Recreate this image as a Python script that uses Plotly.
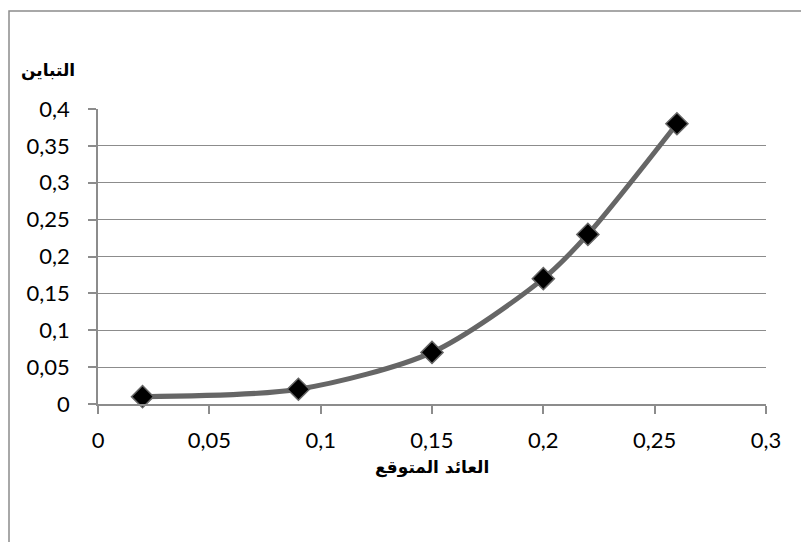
import plotly.graph_objects as go

# Expected return vs. variance
expected_return = [0.02, 0.09, 0.15, 0.20, 0.22, 0.26]
variance = [0.01, 0.02, 0.07, 0.17, 0.23, 0.38]

x_ticks = [0, 0.05, 0.1, 0.15, 0.2, 0.25, 0.3]
y_ticks = [0, 0.05, 0.1, 0.15, 0.2, 0.25, 0.3, 0.35, 0.4]

x_title = "العائد المتوقع"
y_title = "التباين"

W, H = 801, 542
L, R, T, B = 98, 35, 109, 138

fig = go.Figure()
fig.add_trace(go.Scatter(
    x=expected_return, y=variance,
    mode="lines+markers",
    line=dict(color="#666666", width=5, shape="spline", smoothing=0.8),
    marker=dict(symbol="diamond", size=17, color="#000000",
                line=dict(color="#666666", width=1.5)),
    showlegend=False,
    cliponaxis=False,
))

tick_font = dict(family="Lato, Open Sans, sans-serif", size=22, color="#000000")

fig.update_layout(
    width=W, height=H,
    margin=dict(l=L, r=R, t=T, b=B),
    paper_bgcolor="white", plot_bgcolor="white",
    separators=", ",
    xaxis=dict(
        range=[0, 0.3], tickvals=x_ticks, showgrid=False, zeroline=False,
        showline=True, linecolor="#8c8c8c", linewidth=1.5,
        ticks="outside", ticklen=8, tickcolor="#8c8c8c", tickwidth=1.5,
        tickfont=tick_font, ticklabelstandoff=8,
    ),
    yaxis=dict(
        range=[0, 0.4], tickvals=y_ticks, showgrid=True, gridcolor="#8c8c8c",
        gridwidth=1.2, zeroline=False,
        showline=True, linecolor="#8c8c8c", linewidth=1.5,
        ticks="outside", ticklen=8, tickcolor="#8c8c8c", tickwidth=1.5,
        tickfont=tick_font, ticklabelstandoff=14,
    ),
    font=dict(family="DejaVu Sans"),
)

pw = W - L - R
ph = H - T - B

def px_x(p):
    return (p - L) / pw

def px_y(p):
    return (H - B - p) / ph

# Chart-area border (extends past the right and bottom edges)
fig.add_shape(type="rect", xref="paper", yref="paper",
              x0=px_x(9), x1=px_x(W + 20), y0=px_y(H + 20), y1=px_y(11),
              line=dict(color="#8c8c8c", width=1.5), layer="below")

title_font = dict(family="DejaVu Serif, DejaVu Sans, sans-serif", size=17, color="#000000")
fig.add_annotation(text="<b>" + y_title + "</b>", xref="paper", yref="paper",
                   x=px_x(48), y=px_y(70), showarrow=False, font=title_font,
                   xanchor="center", yanchor="middle")
fig.add_annotation(text="<b>" + x_title + "</b>", xref="paper", yref="paper",
                   x=px_x(432), y=px_y(467), showarrow=False, font=title_font,
                   xanchor="center", yanchor="middle")

fig.write_html("out.html")
